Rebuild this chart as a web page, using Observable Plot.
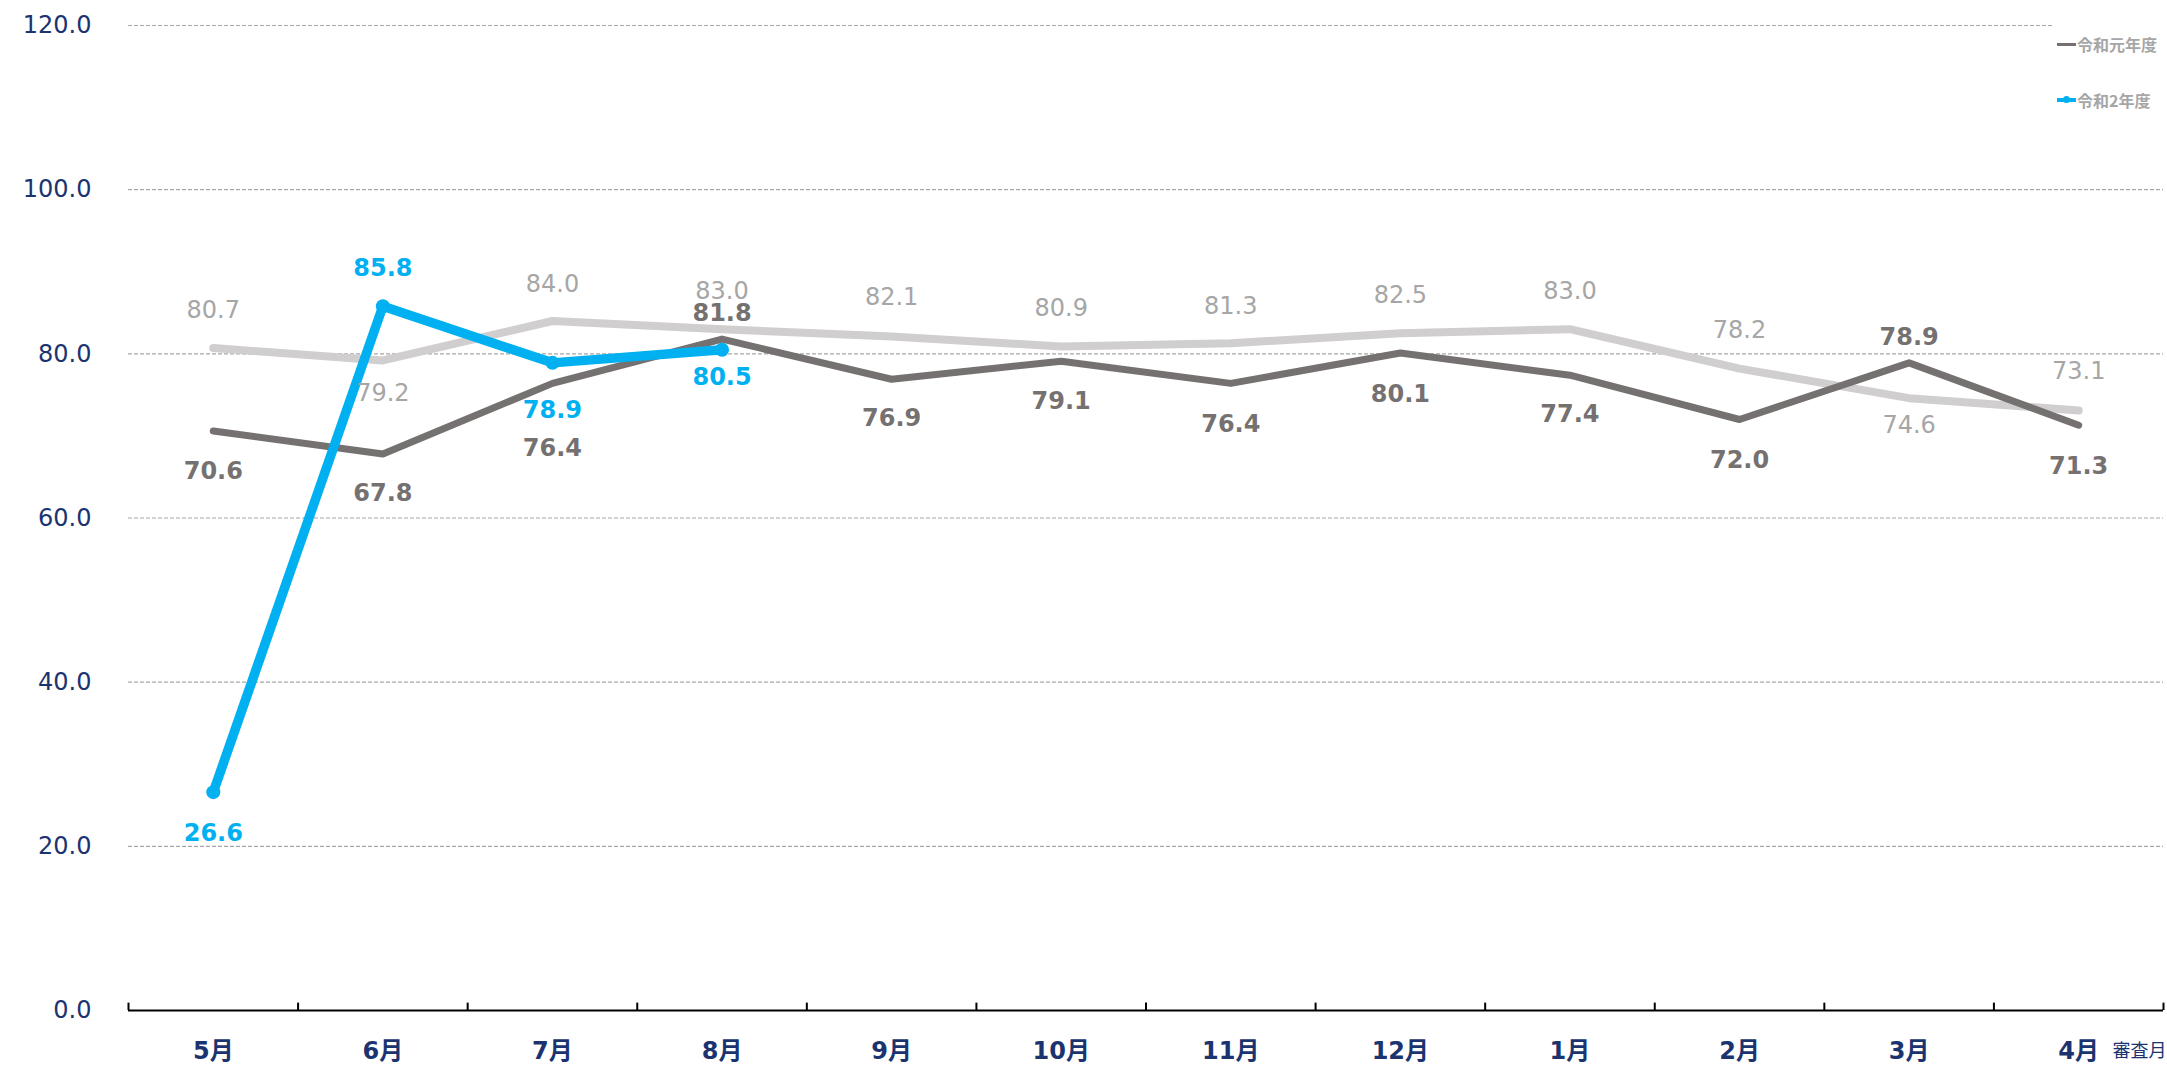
<!DOCTYPE html>
<html>
<head>
<meta charset="utf-8">
<script src="https://cdn.jsdelivr.net/npm/d3@7"></script>
<script src="https://cdn.jsdelivr.net/npm/@observablehq/plot@0.6"></script>
<style>
  body { margin: 0; background: #fff; }
  #wrap { position: relative; width: 2167px; height: 1065px; font-family: "DejaVu Sans", "Noto Sans CJK JP", sans-serif; }
  #legend { position: absolute; left: 2053px; top: 16px; width: 114px; height: 110px; background: #fff; }
  .lg { position: absolute; left: 4px; display: flex; align-items: center; font-size: 16px; font-weight: bold; color: #a6a6a6; font-family: "Noto Sans CJK JP", sans-serif; }
  .sw { position: relative; width: 19px; height: 3px; margin-right: 1px; }
  .mk { position: absolute; left: 6px; top: -2.5px; width: 7px; height: 7px; border-radius: 50%; background: #00b0f0; }
</style>
</head>
<body>
<div id="wrap">
  <div id="chart"></div>
  <div id="legend">
    <div class="lg" style="top:16px"><div class="sw" style="background:#767171"></div>令和元年度</div>
    <div class="lg" style="top:72px"><div class="sw" style="background:#00b0f0;height:4px"><div class="mk"></div></div>令和2年度</div>
  </div>
</div>
<script>
// ---- data ----
const months = ["5月","6月","7月","8月","9月","10月","11月","12月","1月","2月","3月","4月"];
const lightValues = [80.7, 79.2, 84.0, 83.0, 82.1, 80.9, 81.3, 82.5, 83.0, 78.2, 74.6, 73.1];
const r1Values    = [70.6, 67.8, 76.4, 81.8, 76.9, 79.1, 76.4, 80.1, 77.4, 72.0, 78.9, 71.3]; // 令和元年度
const r2Values    = [26.6, 85.8, 78.9, 80.5];                                                 // 令和2年度
const yTicks = [0, 20, 40, 60, 80, 100, 120];
const xAxisTitle = "審査月";

// ---- label nudges (layout only) ----
const lightDy = [-38, 33, -37, -38, -39, -38, -37, -38, -38, -38, 27, -39];
const r1Dy    = [40, 39, 65, -26, 39, 40, 41, 41, 39, 41, -26, 41];
const r2Dy    = [41, -38, 47, 28];

const mk = (vals, dys) => vals.map((v, i) => ({i: i + 0.5, v, dy: dys[i]}));
const light = mk(lightValues, lightDy);
const r1 = mk(r1Values, r1Dy);
const r2 = mk(r2Values, r2Dy);

const LIGHT = "#d0cece", DARK = "#767171", BLUE = "#00b0f0", NAVY = "#1b3470";
const font = "DejaVu Sans, Noto Sans CJK JP, sans-serif";

const labels = (data, color, weight) => data.map(d =>
  Plot.text([d], {x: "i", y: "v", text: d => d.v.toFixed(1), dy: d.dy, fill: color,
    fontSize: 24, fontWeight: weight, fontFamily: font}));

const chart = Plot.plot({
  width: 2167, height: 1065,
  marginLeft: 128, marginRight: 4, marginTop: 25, marginBottom: 55,
  x: {type: "linear", domain: [0, 12], axis: null},
  y: {domain: [0, 120], axis: null},
  style: {fontFamily: font, background: "transparent"},
  marks: [
    Plot.ruleY(yTicks.filter(d => d > 0), {stroke: "#a6a6a6", strokeWidth: 1.2, strokeDasharray: "4,2"}),
    Plot.text(yTicks, {x: 0, y: d => d, text: d => d.toFixed(1), dx: -37, textAnchor: "end",
      fill: NAVY, fontSize: 24, fontFamily: font}),
    Plot.ruleY([0], {stroke: "#000", strokeWidth: 2}),
    Plot.ruleX(d3.range(13), {y1: 0, y2: 0.9, stroke: "#000", strokeWidth: 2}),
    Plot.text(months, {x: (d, i) => i + 0.5, y: 0, text: d => d, dy: 41, fill: NAVY,
      fontSize: 24, fontWeight: "bold", fontFamily: font}),
    Plot.text([xAxisTitle], {x: 12, y: 0, text: d => d, dy: 41, dx: 3, textAnchor: "end",
      fill: NAVY, fontSize: 18, fontFamily: "Noto Sans CJK JP, sans-serif"}),
    Plot.line(light, {x: "i", y: "v", stroke: LIGHT, strokeWidth: 8, strokeLinejoin: "round", strokeLinecap: "round"}),
    Plot.line(r1, {x: "i", y: "v", stroke: DARK, strokeWidth: 7, strokeLinejoin: "round", strokeLinecap: "round"}),
    Plot.line(r2, {x: "i", y: "v", stroke: BLUE, strokeWidth: 9.5, strokeLinejoin: "round", strokeLinecap: "round"}),
    Plot.dot(r2, {x: "i", y: "v", r: 7, fill: BLUE, stroke: null}),
    ...labels(light, "#a6a6a6", "normal"),
    ...labels(r1, DARK, "bold"),
    ...labels(r2, BLUE, "bold")
  ]
});
document.getElementById("chart").appendChild(chart);
</script>
</body>
</html>
